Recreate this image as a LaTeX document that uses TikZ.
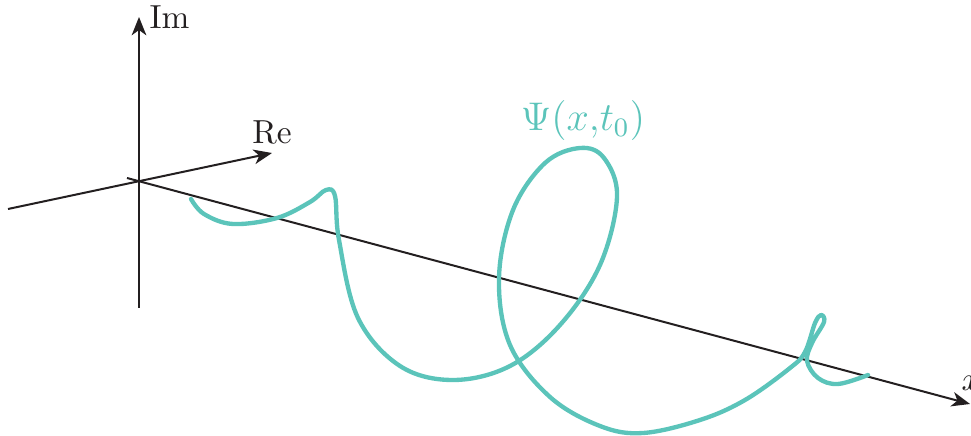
\documentclass[tikz,border=0pt]{standalone}
\usepackage{amsmath}
\usepackage{tikz}
\usetikzlibrary{arrows.meta,positioning,calc}
\definecolor{wfink} {HTML}{231F20}
\definecolor{wfteal}{HTML}{5BC4BA}
\tikzset{
  wfaxis/.style={draw=wfink, line width=0.6pt, -{Stealth[length=5.5pt,width=4.4pt,inset=1.6pt]}},
  wfcurve/.style={draw=wfteal, line width=1.3pt, line cap=round, line join=round},
  wflabel/.style={text=wfink, inner sep=0pt, font=\fontsize{10}{12}\selectfont},
  wfpsi/.style={text=wfteal, inner sep=0pt, font=\fontsize{11.5}{13}\selectfont},
}
\begin{document}
\begin{tikzpicture}[x=0.3pt,y=-0.3pt]
  \useasboundingbox (0,0) rectangle (971,436);
  % axes
  \coordinate (imlow) at (139,308);
  \coordinate (imtip) at (139,17);
  \coordinate (relow) at (8,209);
  \coordinate (retip) at (272,153);
  \coordinate (xlow)  at (127,178);
  \coordinate (xtip)  at (970,404);
  \draw[wfaxis] (imlow) -- (imtip);
  \draw[wfaxis] (relow) -- (retip);
  \draw[wfaxis] (xlow) -- (xtip);
  \node[wflabel,anchor=west] (imlab) at (149,17) {Im};
  \node[wflabel] (relab) at (272,132) {Re};
  \node[wflabel,anchor=base west] (xlab) at (961,391) {$x$};

  % wave function at t0
  \draw[wfcurve] plot[smooth,tension=0.6] coordinates {
    (191,199) (204,214) (233,224) (277,218) (310,202) (326,190) (335,196)
    (339,240) (358,318) (400,366) (453,380) (510,366) (560,325) (600,265)
    (617,197) (604,158) (580,148) (545,163) (513,210) (499,278) (510,345)
    (550,397) (600,426) (643,433) (700,420) (745,400) (790,368) (805,352)
    (815,323) (821,315) (824,322) (812,343) (807,361) (818,378) (838,384)
    (868,375)};
  \node[wfpsi] (psilab) at (583,121) {$\Psi(x{,}t_0)$};
\end{tikzpicture}
\end{document}
